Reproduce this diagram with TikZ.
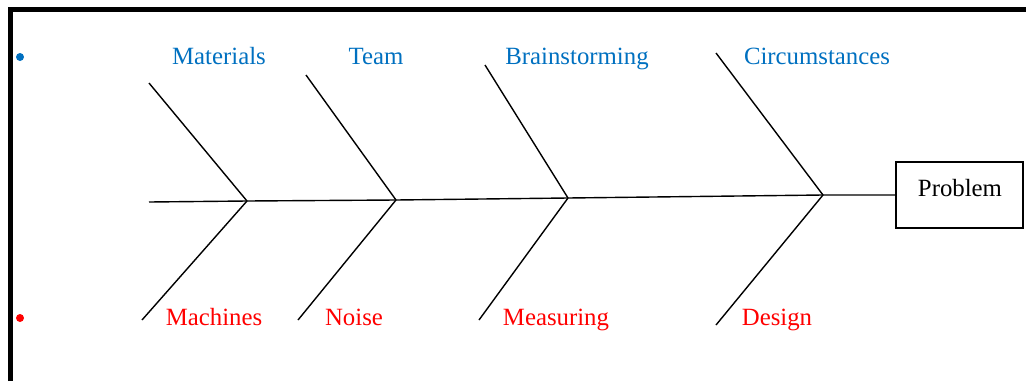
\documentclass[tikz,border=0pt]{standalone}
\usepackage{fontspec}
\setmainfont{Liberation Serif}
\definecolor{causeblue}{RGB}{0,112,192}
\definecolor{causered}{RGB}{255,0,0}
\begin{document}
\begin{tikzpicture}[x=1pt,y=-1pt,
  bone/.style={draw=black,line width=1.4pt},
  lbl/.style={font=\fontsize{24.8}{30}\selectfont,inner sep=0pt,anchor=base},
  toplbl/.style={lbl,text=causeblue},
  botlbl/.style={lbl,text=causered}]
\useasboundingbox (0,0) rectangle (1026,381);
% frame on top and left
\draw[line width=5.5pt] (10.5,381) -- (10.5,9.5) -- (1026,9.5);
% bullets
\fill[causeblue] (20,57) circle (4);
\fill[causered] (20,318) circle (4);
% effect box
\node[draw,line width=1.4pt,minimum width=127pt,minimum height=66pt,inner sep=0pt] (prob) at (959.5,195) {};
\node[lbl] (probtext) at (960,196) {Problem};
% spine junctions
\coordinate (tail) at (149,202);
\coordinate (j1) at (247,201);
\coordinate (j2) at (396,200);
\coordinate (j3) at (568,198);
\coordinate (j4) at (823,195);
\draw[bone] (tail) -- (j1) -- (j2) -- (j3) -- (j4) -- (prob.west);
% upper bones
\coordinate (u1) at (149,83);
\coordinate (u2) at (306,75);
\coordinate (u3) at (485,65);
\coordinate (u4) at (716,53);
\draw[bone] (u1) -- (j1);
\draw[bone] (u2) -- (j2);
\draw[bone] (u3) -- (j3);
\draw[bone] (u4) -- (j4);
% lower bones
\coordinate (d1) at (142,320);
\coordinate (d2) at (298,320);
\coordinate (d3) at (479,320);
\coordinate (d4) at (716,325);
\draw[bone] (j1) -- (d1);
\draw[bone] (j2) -- (d2);
\draw[bone] (j3) -- (d3);
\draw[bone] (j4) -- (d4);
% cause labels
\node[toplbl] (materials) at (219,64) {Materials};
\node[toplbl] (team) at (376,64) {Team};
\node[toplbl] (brain) at (577,64) {Brainstorming};
\node[toplbl] (circ) at (817,64) {Circumstances};
\node[botlbl] (machines) at (214,325) {Machines};
\node[botlbl] (noise) at (354,325) {Noise};
\node[botlbl] (measuring) at (556,325) {Measuring};
\node[botlbl] (design) at (777,325) {Design};
\end{tikzpicture}
\end{document}
